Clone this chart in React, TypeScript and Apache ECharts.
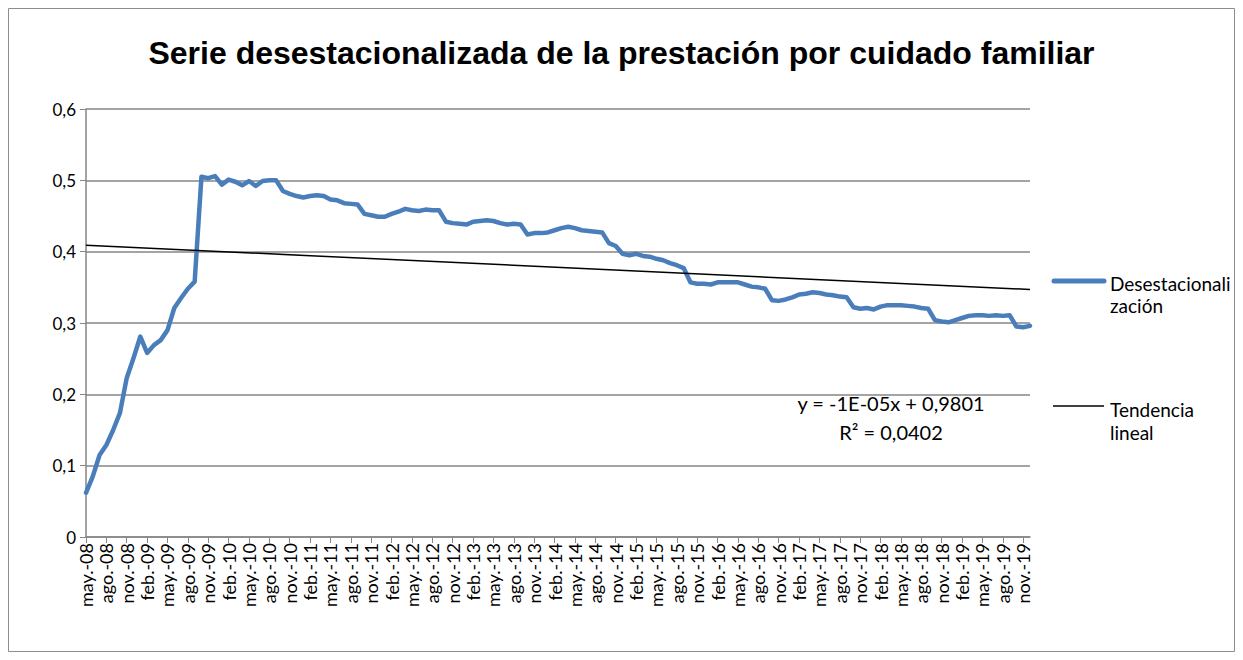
import React, { useEffect, useRef } from "react";
import * as echarts from "echarts";

const TITLE = "Serie desestacionalizada de la prestación por cuidado familiar";
const MONTH_ABBR = ["ene.", "feb.", "mar.", "abr.", "may.", "jun.", "jul.", "ago.", "sep.", "oct.", "nov.", "dic."];
const START_YEAR = 2008;
const START_MONTH = 4; // may
const SERIES_NAME = "Desestacionalización";
const TREND_NAME = "Tendencia lineal";

// Monthly values may-08 .. dic-19
const desestacionalizacion = [
  0.062, 0.085, 0.115, 0.129, 0.150, 0.174, 0.223, 0.251, 0.281, 0.258,
  0.269, 0.276, 0.290, 0.321, 0.335, 0.348, 0.358, 0.505, 0.503, 0.506,
  0.494, 0.501, 0.498, 0.493, 0.499, 0.492, 0.499, 0.500, 0.500, 0.485,
  0.481, 0.478, 0.476, 0.478, 0.479, 0.478, 0.473, 0.472, 0.468, 0.467,
  0.466, 0.453, 0.451, 0.449, 0.449, 0.453, 0.456, 0.460, 0.458, 0.457,
  0.459, 0.458, 0.458, 0.442, 0.440, 0.439, 0.438, 0.442, 0.443, 0.444,
  0.443, 0.440, 0.438, 0.439, 0.438, 0.424, 0.426, 0.426, 0.427, 0.430,
  0.433, 0.435, 0.433, 0.430, 0.429, 0.428, 0.427, 0.412, 0.408, 0.397,
  0.395, 0.397, 0.394, 0.393, 0.390, 0.388, 0.384, 0.381, 0.377, 0.357,
  0.355, 0.355, 0.354, 0.357, 0.357, 0.357, 0.357, 0.354, 0.351, 0.350,
  0.348, 0.332, 0.331, 0.333, 0.336, 0.340, 0.341, 0.343, 0.342, 0.340,
  0.339, 0.337, 0.336, 0.322, 0.320, 0.321, 0.319, 0.323, 0.325, 0.325,
  0.325, 0.324, 0.323, 0.321, 0.320, 0.304, 0.302, 0.301, 0.304, 0.307,
  0.310, 0.311, 0.311, 0.310, 0.311, 0.310, 0.311, 0.295, 0.294, 0.296,
];

// Linear trend endpoints (as drawn)
const TREND_START = 0.409;
const TREND_END = 0.347;

const EQUATION = "y = -1E-05x + 0,9801";
const R_SQUARED = "R² = 0,0402";

const categories: string[] = desestacionalizacion.map((_, i) => {
  const m = (START_MONTH + i) % 12;
  const y = START_YEAR + Math.floor((START_MONTH + i) / 12);
  return `${MONTH_ABBR[m]}-${String(y % 100).padStart(2, "0")}`;
});

const trendData: (number | null)[] = desestacionalizacion.map((_, i) =>
  i === 0 ? TREND_START : i === desestacionalizacion.length - 1 ? TREND_END : null
);

const FONT = "Lato, 'Noto Sans', sans-serif";

export default function App() {
  const ref = useRef<HTMLDivElement>(null);
  useEffect(() => {
    if (!ref.current) return;
    const chart = echarts.init(ref.current, undefined, { renderer: "svg" });
    chart.setOption({
      animation: false,
      backgroundColor: "#ffffff",
      title: {
        text: TITLE,
        left: "center",
        top: 32,
        textStyle: {
          fontFamily: "'Liberation Sans', Arial, sans-serif",
          fontWeight: "bold",
          fontSize: 32,
          color: "#000000",
        },
      },
      grid: { left: 86, top: 109, width: 944, height: 428, containLabel: false },
      xAxis: {
        type: "category",
        data: categories,
        boundaryGap: false,
        axisLine: { lineStyle: { color: "#868686", width: 1.5 } },
        axisTick: { interval: 2, length: 6, lineStyle: { color: "#868686", width: 1 } },
        axisLabel: {
          interval: 2,
          rotate: 90,
          fontFamily: FONT,
          fontSize: 18,
          color: "#000000",
          margin: 6,
        },
        splitLine: { show: false },
      },
      yAxis: {
        type: "value",
        min: 0,
        max: 0.6,
        interval: 0.1,
        axisLine: { show: true, lineStyle: { color: "#868686", width: 1.5 } },
        axisTick: { show: true, length: 6, lineStyle: { color: "#868686" } },
        axisLabel: {
          fontFamily: FONT,
          fontSize: 17,
          color: "#000000",
          margin: 10,
          formatter: (v: number) => (v === 0 ? "0" : v.toFixed(1).replace(".", ",")),
        },
        splitLine: { lineStyle: { color: "#868686", width: 1.5 } },
      },
      series: [
        {
          name: SERIES_NAME,
          type: "line",
          data: desestacionalizacion,
          showSymbol: false,
          symbol: "none",
          lineStyle: { color: "#4A7EBB", width: 4.5, join: "round", cap: "round" },
          z: 3,
        },
        {
          name: TREND_NAME,
          type: "line",
          data: trendData,
          connectNulls: true,
          showSymbol: false,
          symbol: "none",
          lineStyle: { color: "#000000", width: 1.5 },
          z: 4,
        },
      ],
      graphic: [
        {
          type: "rect",
          shape: { x: 8.5, y: 8.5, width: 1226, height: 643 },
          style: { fill: "none", stroke: "#8c8c8c", lineWidth: 1 },
          silent: true,
        },
        {
          type: "line",
          shape: { x1: 1054, y1: 281, x2: 1104, y2: 281 },
          style: { stroke: "#4A7EBB", lineWidth: 5, lineCap: "round" },
        },
        {
          type: "text",
          x: 1110,
          y: 294,
          style: {
            text: "Desestacionali\nzación",
            fontFamily: FONT,
            fontSize: 19,
            lineHeight: 22,
            fill: "#000000",
            verticalAlign: "middle",
          },
        },
        {
          type: "line",
          shape: { x1: 1053, y1: 406, x2: 1104, y2: 406 },
          style: { stroke: "#000000", lineWidth: 1.5 },
        },
        {
          type: "text",
          x: 1110,
          y: 421,
          style: {
            text: "Tendencia\nlineal",
            fontFamily: FONT,
            fontSize: 19,
            lineHeight: 23,
            fill: "#000000",
            verticalAlign: "middle",
          },
        },
        {
          type: "text",
          x: 891,
          y: 403,
          style: {
            text: EQUATION,
            fontFamily: FONT,
            fontSize: 20,
            fill: "#000000",
            align: "center",
            verticalAlign: "middle",
          },
        },
        {
          type: "text",
          x: 891,
          y: 432,
          style: {
            text: R_SQUARED,
            fontFamily: FONT,
            fontSize: 20,
            fill: "#000000",
            align: "center",
            verticalAlign: "middle",
          },
        },
      ],
    });
    return () => chart.dispose();
  }, []);
  return (
    <div
      ref={ref}
      style={{ position: "fixed", left: 0, top: 0, width: 1243, height: 660 }}
    />
  );
}
